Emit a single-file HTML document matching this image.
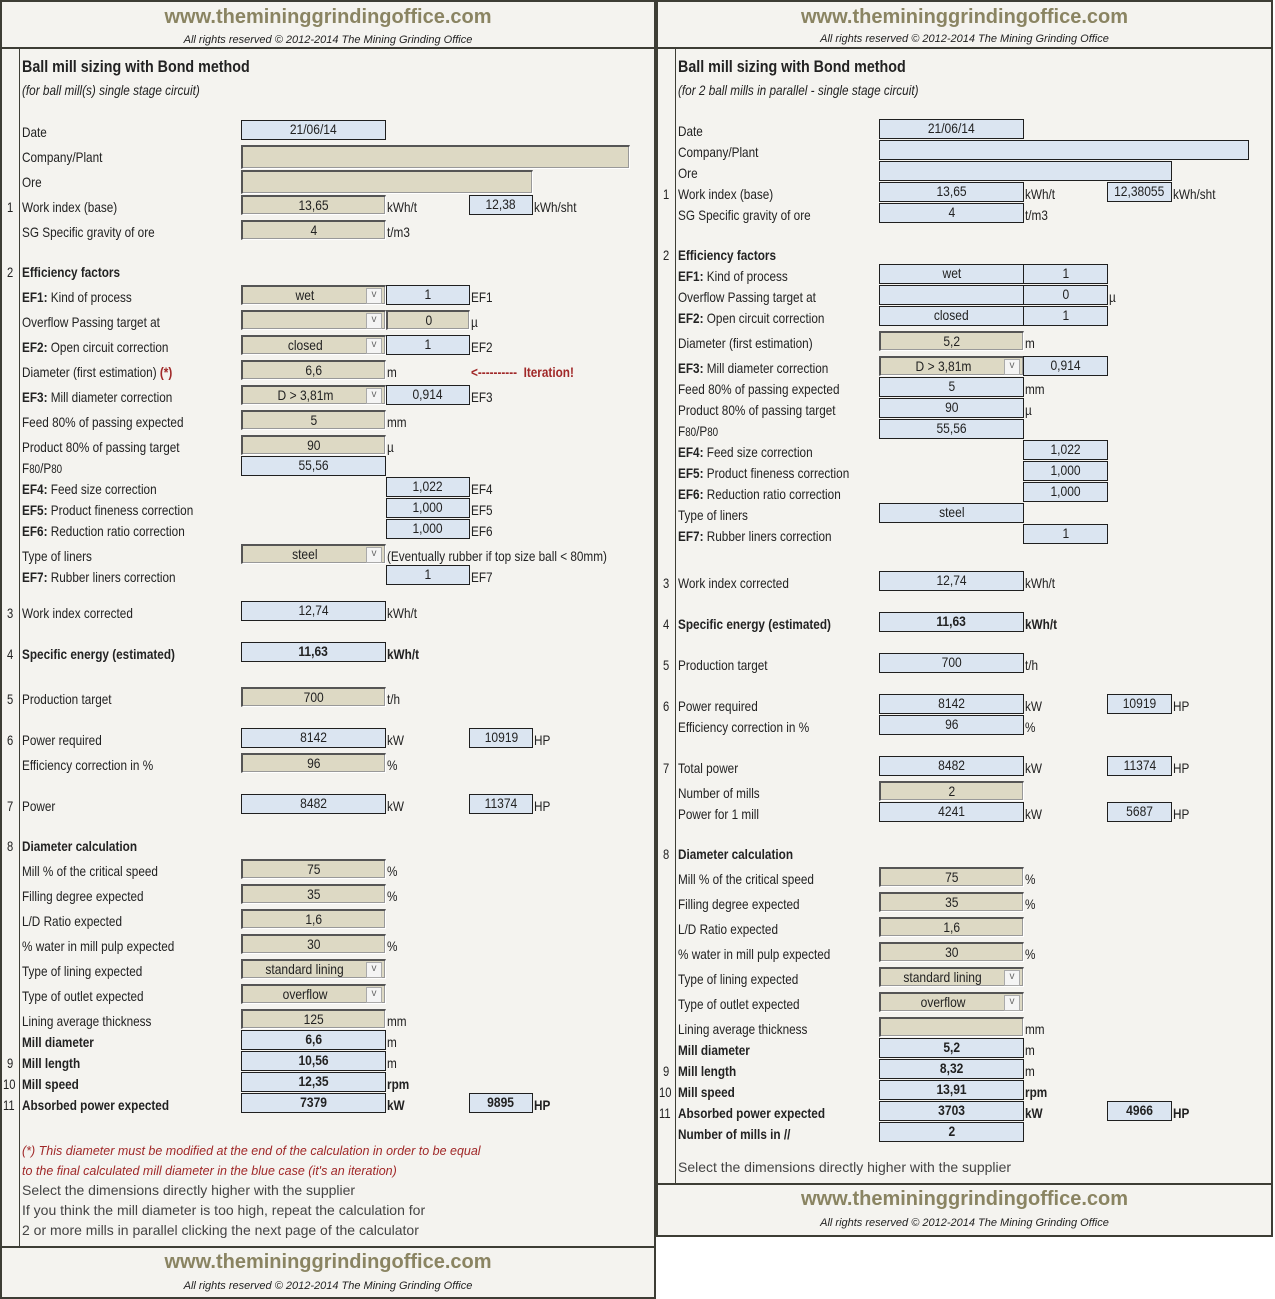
<!DOCTYPE html>
<html><head><meta charset="utf-8">
<style>
body{margin:0;width:1275px;height:1299px;background:#fff;position:relative;overflow:hidden;font-family:"Liberation Sans",sans-serif;color:#222}
.panel{position:absolute;background:#f4f3ef;border:2px solid #3d3d35;box-sizing:border-box}
.hl{position:absolute;height:2px;background:#3d3d35}
.vl{position:absolute;width:1px;background:#3d3d35}
.t{position:absolute;white-space:nowrap;font-size:14px;line-height:18px;transform:scaleX(.84);transform-origin:0 50%}
.t.n{transform:scaleX(.8)}
.c{position:absolute;box-sizing:border-box;border:1px solid #1f1f1f;font-size:14px;text-align:center;line-height:17px;white-space:nowrap;overflow:hidden}
.c span{display:inline-block;transform:scaleX(.86)}
.b{background:#dbe5f1}
.g{background:#ddd9c4;border-left:2px solid #555;border-top:2px solid #555;border-right:1px solid #fff;border-bottom:1px solid #fff;box-shadow:inset -1px -1px 0 #999}
.dd{position:absolute;right:3px;top:1px;width:14px;height:14px;background:#f4f4f4;border:1px solid #aaa;font-size:10px;line-height:12px;color:#666;text-align:center}
.url{position:absolute;font-weight:bold;color:#8a8462;font-size:20px;text-align:center;transform:none}
.rr{position:absolute;font-style:italic;font-size:11px;text-align:center}
</style></head><body>
<div id="root"></div>
<script>
const root=document.getElementById('root');
function el(cls,x,y,w,h,html,name,inter){
 const d=document.createElement('div');d.className=cls;
 d.style.left=x+'px';d.style.top=y+'px';
 if(w!=null)d.style.width=w+'px';
 if(h!=null)d.style.height=h+'px';
 if(html!=null)d.innerHTML=html;
 
 
 root.appendChild(d);return d;
}
function slug(s){return s.replace(/<[^>]+>/g,'').toLowerCase().replace(/[^a-z0-9]+/g,'-').replace(/^-|-$/g,'').slice(0,30)||'cell';}
function panel(px,pw,ph,headDiv,footDiv,vx){
 el('panel',px,0,pw,ph,null,'sheet-panel',false);
 el('hl',px,headDiv,pw,null,null,'header-divider',false);
 el('hl',px,footDiv,pw,null,null,'footer-divider',false);
 el('vl',vx,headDiv,null,footDiv-headDiv,null,'row-number-divider',false);
}
function brand(px,pw,y1,y2){
 el('url',px,y1,pw,null,'www.theminingrindingoffice.com'.replace('miningrinding','mininggrinding'),'site-url',true);
 el('rr',px,y2,pw,null,'All rights reserved © 2012-2014 The Mining Grinding Office','copyright-note',false);
}
panel(0,656,1299,47,1246,19);
panel(656,617,1237,47,1183,675);
brand(0,656,6,34);brand(656,617,6,33);brand(0,656,1251,1280);brand(656,617,1188,1217);

function buildSheet(rows,cols,units,lx,nx){
 rows.forEach(r=>{
  const [yc,num,label,bold,cells,us,note]=r;
  if(num)el('t n',num.length>1?nx-4:nx,yc-9,null,null,num,'row-number',false);
  if(label){const L=el('t',lx,yc-9,null,null,label,slug(label)+'-label',false);if(bold)L.style.fontWeight='bold';if(note)L.style.transform='none';}
  (cells||[]).forEach(c=>{
   const [col,type,txt,b]=c;const C=cols[col];
   const x=C[0],w=C[1];const h=c[4]||20;
   const cls='c '+(type==='b'?'b':'g');
   const d=el(cls,x,yc-12,w,h,'<span>'+txt+'</span>',slug(label||'value')+'-'+col+'-cell',true);
   if(b)d.style.fontWeight='bold';
   if(type==='d'){d.style.paddingRight='18px';
     const a=document.createElement('div');a.className='dd';a.textContent='v';
     
     
     d.appendChild(a);}
  });
  (us||[]).forEach(u=>{const U=el('t',units[u[0]],yc-9,null,null,u[1],'unit-label',false);if(u[2])U.style.fontWeight='bold';if(u[3])U.style.color=u[3];});
 });
}
const LC={A:[241,145],B:[386,84],C:[469,64],W:[241,389],O:[241,292]};
const LU={A:387,B:471,C:534};
const leftRows=[
 [67,'','<b style="font-size:17px">Ball mill sizing with Bond method</b>',false],
 [90,'','<i>(for ball mill(s) single stage circuit)</i>',false],
 [132,'','Date',false,[['A','b','21/06/14']]],
 [157,'','Company/Plant',false,[['W','g','',false,24]]],
 [182,'','Ore',false,[['O','g','',false,24]]],
 [207,'1','Work index (base)',false,[['A','g','13,65'],['C','b','12,38']],[['A','kWh/t'],['C','kWh/sht']]],
 [232,'','SG Specific gravity of ore',false,[['A','g','4']],[['A','t/m3']]],
 [272,'2','Efficiency factors',true],
 [297,'','<b>EF1:</b> Kind of process',false,[['A','d','wet'],['B','b','1']],[['B','EF1']]],
 [322,'','Overflow Passing target at',false,[['A','d',''],['B','g','0']],[['B','µ']]],
 [347,'','<b>EF2:</b> Open circuit correction',false,[['A','d','closed'],['B','b','1']],[['B','EF2']]],
 [372,'','Diameter (first estimation) <b style="color:#a02828">(*)</b>',false,[['A','g','6,6']],[['A','m'],['B','&lt;----------&nbsp; Iteration!',true,'#a02828']]],
 [397,'','<b>EF3:</b> Mill diameter correction',false,[['A','d','D &gt; 3,81m'],['B','b','0,914']],[['B','EF3']]],
 [422,'','Feed 80% of passing expected',false,[['A','g','5']],[['A','mm']]],
 [447,'','Product 80% of passing target',false,[['A','g','90']],[['A','µ']]],
 [468,'','F<small>80</small>/P<small>80</small>',false,[['A','b','55,56']]],
 [489,'','<b>EF4:</b> Feed size correction',false,[['B','b','1,022']],[['B','EF4']]],
 [510,'','<b>EF5:</b> Product fineness correction',false,[['B','b','1,000']],[['B','EF5']]],
 [531,'','<b>EF6:</b> Reduction ratio correction',false,[['B','b','1,000']],[['B','EF6']]],
 [556,'','Type of liners',false,[['A','d','steel']],[['A','(Eventually rubber if top size ball &lt; 80mm)']]],
 [577,'','<b>EF7:</b> Rubber liners correction',false,[['B','b','1']],[['B','EF7']]],
 [613,'3','Work index corrected',false,[['A','b','12,74']],[['A','kWh/t']]],
 [654,'4','Specific energy (estimated)',true,[['A','b','11,63',true]],[['A','kWh/t',true]]],
 [699,'5','Production target',false,[['A','g','700']],[['A','t/h']]],
 [740,'6','Power required',false,[['A','b','8142'],['C','b','10919']],[['A','kW'],['C','HP']]],
 [765,'','Efficiency correction in %',false,[['A','g','96']],[['A','%']]],
 [806,'7','Power',false,[['A','b','8482'],['C','b','11374']],[['A','kW'],['C','HP']]],
 [846,'8','Diameter calculation',true],
 [871,'','Mill % of the critical speed',false,[['A','g','75']],[['A','%']]],
 [896,'','Filling degree expected',false,[['A','g','35']],[['A','%']]],
 [921,'','L/D Ratio expected',false,[['A','g','1,6']]],
 [946,'','% water in mill pulp expected',false,[['A','g','30']],[['A','%']]],
 [971,'','Type of lining expected',false,[['A','d','standard lining']]],
 [996,'','Type of outlet expected',false,[['A','d','overflow']]],
 [1021,'','Lining average thickness',false,[['A','g','125']],[['A','mm']]],
 [1042,'','Mill diameter',true,[['A','b','6,6',true]],[['A','m']]],
 [1063,'9','Mill length',true,[['A','b','10,56',true]],[['A','m']]],
 [1084,'10','Mill speed',true,[['A','b','12,35',true]],[['A','rpm',true]]],
 [1105,'11','Absorbed power expected',true,[['A','b','7379',true],['C','b','9895',true]],[['A','kW',true],['C','HP',true]]],
 [1150,'','<i style="color:#a02828;font-size:12.5px">(*) This diameter must be modified at the end of the calculation in order to be equal</i>',false,null,null,true],
 [1170,'','<i style="color:#a02828;font-size:12.5px">to the final calculated mill diameter in the blue case (it\'s an iteration)</i>',false,null,null,true],
 [1190,'','<span style="color:#444">Select the dimensions directly higher with the supplier</span>',false,null,null,true],
 [1210,'','<span style="color:#444">If you think the mill diameter is too high, repeat the calculation for</span>',false,null,null,true],
 [1230,'','<span style="color:#444">2 or more mills in parallel clicking the next page of the calculator</span>',false,null,null,true],
];
buildSheet(leftRows,LC,LU,22,7);
const RC={A:[879,145],B:[1023,85],C:[1107,65],W:[879,370],O:[879,293]};
const RU={A:1025,B:1109,C:1173};
const rightRows=[
 [67,'','<b style="font-size:17px">Ball mill sizing with Bond method</b>',false],
 [90,'','<i>(for 2 ball mills in parallel - single stage circuit)</i>',false],
 [131,'','Date',false,[['A','b','21/06/14']]],
 [152,'','Company/Plant',false,[['W','b','']]],
 [173,'','Ore',false,[['O','b','']]],
 [194,'1','Work index (base)',false,[['A','b','13,65'],['C','b','12,38055']],[['A','kWh/t'],['C','kWh/sht']]],
 [215,'','SG Specific gravity of ore',false,[['A','b','4']],[['A','t/m3']]],
 [255,'2','Efficiency factors',true],
 [276,'','<b>EF1:</b> Kind of process',false,[['A','b','wet'],['B','b','1']]],
 [297,'','Overflow Passing target at',false,[['A','b',''],['B','b','0']],[['B','µ']]],
 [318,'','<b>EF2:</b> Open circuit correction',false,[['A','b','closed'],['B','b','1']]],
 [343,'','Diameter (first estimation)',false,[['A','g','5,2']],[['A','m']]],
 [368,'','<b>EF3:</b> Mill diameter correction',false,[['A','d','D &gt; 3,81m'],['B','b','0,914']]],
 [389,'','Feed 80% of passing expected',false,[['A','b','5']],[['A','mm']]],
 [410,'','Product 80% of passing target',false,[['A','b','90']],[['A','µ']]],
 [431,'','F<small>80</small>/P<small>80</small>',false,[['A','b','55,56']]],
 [452,'','<b>EF4:</b> Feed size correction',false,[['B','b','1,022']]],
 [473,'','<b>EF5:</b> Product fineness correction',false,[['B','b','1,000']]],
 [494,'','<b>EF6:</b> Reduction ratio correction',false,[['B','b','1,000']]],
 [515,'','Type of liners',false,[['A','b','steel']]],
 [536,'','<b>EF7:</b> Rubber liners correction',false,[['B','b','1']]],
 [583,'3','Work index corrected',false,[['A','b','12,74']],[['A','kWh/t']]],
 [624,'4','Specific energy (estimated)',true,[['A','b','11,63',true]],[['A','kWh/t',true]]],
 [665,'5','Production target',false,[['A','b','700']],[['A','t/h']]],
 [706,'6','Power required',false,[['A','b','8142'],['C','b','10919']],[['A','kW'],['C','HP']]],
 [727,'','Efficiency correction in %',false,[['A','b','96']],[['A','%']]],
 [768,'7','Total power',false,[['A','b','8482'],['C','b','11374']],[['A','kW'],['C','HP']]],
 [793,'','Number of mills',false,[['A','g','2']]],
 [814,'','Power for 1 mill',false,[['A','b','4241'],['C','b','5687']],[['A','kW'],['C','HP']]],
 [854,'8','Diameter calculation',true],
 [879,'','Mill % of the critical speed',false,[['A','g','75']],[['A','%']]],
 [904,'','Filling degree expected',false,[['A','g','35']],[['A','%']]],
 [929,'','L/D Ratio expected',false,[['A','g','1,6']]],
 [954,'','% water in mill pulp expected',false,[['A','g','30']],[['A','%']]],
 [979,'','Type of lining expected',false,[['A','d','standard lining']]],
 [1004,'','Type of outlet expected',false,[['A','d','overflow']]],
 [1029,'','Lining average thickness',false,[['A','g','']],[['A','mm']]],
 [1050,'','Mill diameter',true,[['A','b','5,2',true]],[['A','m']]],
 [1071,'9','Mill length',true,[['A','b','8,32',true]],[['A','m']]],
 [1092,'10','Mill speed',true,[['A','b','13,91',true]],[['A','rpm',true]]],
 [1113,'11','Absorbed power expected',true,[['A','b','3703',true],['C','b','4966',true]],[['A','kW',true],['C','HP',true]]],
 [1134,'','Number of mills in //',true,[['A','b','2',true]]],
 [1167,'','<span style="color:#444">Select the dimensions directly higher with the supplier</span>',false,null,null,true],
];
buildSheet(rightRows,RC,RU,678,663);
</script>
</body></html>
